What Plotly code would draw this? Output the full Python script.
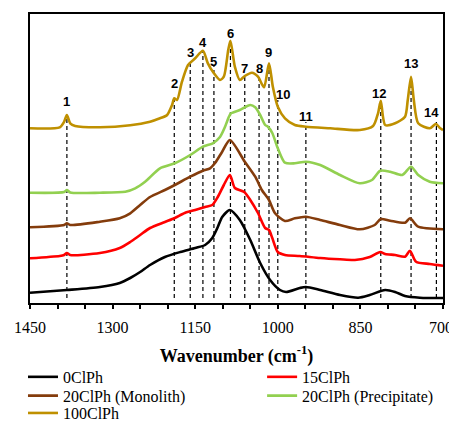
import plotly.graph_objects as go

# ---- data (wavenumber in cm^-1, offset absorbance in arbitrary units) ----
wn_0 = [1450, 1383, 1323, 1287, 1268, 1250, 1232, 1205, 1177, 1150, 1132, 1119, 1109, 1101, 1087,
        1069, 1050, 1032, 1014, 996, 985, 960, 949, 923, 887, 854, 833, 805, 787, 769, 742, 700]
abs_0 = [10.3, 13, 16, 20, 25, 31, 38, 46, 51, 55, 58, 65, 76, 86, 93,
         83, 63, 40, 23, 13, 11, 15, 16, 13, 8, 5.3, 8, 13, 11, 7, 5.3, 5]

wn_15 = [1450, 1396, 1388, 1383, 1377, 1323, 1287, 1268, 1250, 1232, 1205, 1187, 1169, 1150, 1132,
         1119, 1109, 1098, 1087, 1078, 1061, 1050, 1036, 1023, 1016, 1010, 1000, 987, 960, 923,
         887, 860, 833, 814, 805, 787, 769, 760, 749, 724, 700]
abs_15 = [44.7, 47, 48, 50, 48, 50, 55, 61, 68, 75, 81, 85, 90, 93, 96,
          98, 106, 118, 128, 115, 111, 103, 90, 75, 73, 65, 51, 48, 47, 45,
          43.7, 43, 46, 51, 49, 48, 46.3, 52.3, 41.3, 39, 37.3]

wn_20m = [1450, 1388, 1383, 1377, 1323, 1287, 1268, 1250, 1232, 1205, 1187, 1159, 1136, 1123, 1114,
          1101, 1087, 1060, 1041, 1029, 1016, 1005, 987, 969, 949, 923, 887, 851, 824, 813,
          796, 769, 760, 745, 700]
abs_20m = [75.7, 78, 79.7, 78, 81.3, 84.7, 89.7, 98, 106, 113, 118, 126.3, 132.3, 134.7, 140,
           151.3, 163, 141.3, 126.3, 113, 103, 89.7, 82, 84.7, 86.3, 83, 78, 73.7, 78, 84,
           82.3, 80.3, 84.7, 76.3, 73.7]

wn_20p = [1450, 1388, 1383, 1377, 1323, 1277, 1259, 1241, 1214, 1187, 1159, 1136, 1118, 1105, 1096,
          1089, 1085, 1069, 1050, 1041, 1032, 1023, 1018, 1010, 1000, 987, 969, 949, 923, 887,
          851, 829, 814, 796, 774, 758, 745, 724, 700]
abs_20p = [110.3, 111, 113, 110.5, 110.3, 111.3, 114.7, 121.3, 134.7, 139.7, 148, 156.3, 159.7, 166, 176,
           186, 189.7, 193, 198, 195.7, 188, 178, 176.3, 170, 154.7, 140.3, 139.7, 141.3, 138, 128,
           119.7, 123, 132.3, 131.3, 128, 136.3, 128, 121.3, 119.7]

wn_100 = [1450, 1396, 1388, 1383, 1377, 1368, 1323, 1268, 1232, 1214, 1201, 1192, 1188, 1183, 1174,
          1163, 1150, 1136, 1127, 1116, 1105, 1098, 1090, 1086, 1078, 1069, 1060, 1047, 1036, 1025,
          1016, 1009, 1000, 987, 969, 949, 905, 851, 827, 818, 813, 805, 787, 769, 764,
          758, 753, 745, 724, 713, 705, 700]
abs_100 = [174.7, 175.7, 181.3, 188, 179.7, 177, 175.7, 177.7, 181.3, 184.7, 188, 198, 204.7, 203, 221.3,
           238, 244.7, 252.3, 239.7, 229.7, 223, 226.3, 253, 262.3, 236.3, 223, 227, 230.3, 226.3, 215.7,
           239.7, 216.3, 196.3, 184.7, 178, 176.3, 174.7, 173, 177, 189.7, 202.3, 178, 179.7, 186.3, 203,
           226.3, 203, 179.7, 174.7, 179, 174.7, 173]

series_names = ["0ClPh", "15ClPh", "20ClPh (Monolith)", "20ClPh (Precipitate)", "100ClPh"]
series_colors = ["#000000", "#FF0000", "#843C0C", "#92D050", "#BF9000"]
series_legend = ["legend", "legend2", "legend3", "legend4", "legend5"]

# peak markers
peak_labels = ["1", "2", "3", "4", "5", "6", "7", "8", "9", "10", "11", "12", "13", "14"]
peak_wn = [1383, 1188, 1159, 1136, 1116, 1086, 1060, 1034, 1016, 1000, 949, 813, 758, 712]
peak_top = [188, 204.7, 243, 253, 238, 262, 228, 228, 243, 203, 181, 202, 226, 181]
peak_bottom = 5
label_wn = [1383, 1188, 1159, 1136, 1116, 1086, 1060, 1034, 1016, 990, 949, 817, 758, 720]
label_y = [202, 220, 251, 261, 242, 270, 234.7, 234.7, 250.7, 209, 187, 209.7, 239.7, 190.7]

xticks = [1450, 1300, 1150, 1000, 850, 700]
xtick_text = ["1450", "1300", "1150", "1000", "850", "700\u00a0"]

fig = go.Figure()

# dashed peak lines (drawn first, behind curves)
for w, t in zip(peak_wn, peak_top):
    fig.add_trace(go.Scatter(x=[w, w], y=[peak_bottom, t], mode="lines",
                             line=dict(color="black", width=1.2, dash="4px,3px"),
                             showlegend=False, hoverinfo="skip"))

xs = [wn_0, wn_15, wn_20m, wn_20p, wn_100]
ys = [abs_0, abs_15, abs_20m, abs_20p, abs_100]
for x, y, n, c, lg in zip(xs, ys, series_names, series_colors, series_legend):
    fig.add_trace(go.Scatter(x=x, y=y, mode="lines", name=n, legend=lg,
                             line=dict(color=c, width=2.6, shape="spline", smoothing=0.7)))

for lab, w, yy in zip(peak_labels, label_wn, label_y):
    fig.add_annotation(x=w, y=yy, text="<b>" + lab + "</b>", showarrow=False,
                       font=dict(family="Liberation Sans, Arial", size=13, color="black"),
                       xanchor="center", yanchor="middle")

serif = "Liberation Serif, Times New Roman"

fig.update_xaxes(range=[1450, 700], tickvals=xticks, ticktext=xtick_text,
                 ticks="outside", ticklen=4, tickwidth=1.5, tickcolor="black",
                 minor=dict(dtick=50, tick0=700, ticks="outside", ticklen=4, tickwidth=1.5, tickcolor="black"),
                 showline=True, linewidth=2, linecolor="black", mirror=True,
                 showgrid=False, zeroline=False,
                 tickfont=dict(family=serif, size=16, color="black"),
                 ticklabelstandoff=5, ticklabeloverflow="allow",
                 title=dict(text="<b>Wavenumber (cm<sup>-1</sup>)</b>",
                            font=dict(family=serif, size=18, color="black"),
                            standoff=14))
fig.update_yaxes(range=[0, 289], showticklabels=False, ticks="", showgrid=False, zeroline=False,
                 showline=True, linewidth=2, linecolor="black", mirror=True)

legend_common = dict(orientation="v", yanchor="top", xanchor="left", tracegroupgap=0,
                     font=dict(family=serif, size=16, color="black"),
                     bgcolor="rgba(0,0,0,0)", borderwidth=0)

col_x = [-0.017, 0.562]
row_y = [-0.197, -0.262, -0.322]

fig.update_layout(
    width=449, height=413,
    margin=dict(l=22, r=14, t=6, b=118, autoexpand=False),
    plot_bgcolor="white", paper_bgcolor="white",
    showlegend=True,
    legend=dict(x=col_x[0], y=row_y[0], **legend_common),
    legend2=dict(x=col_x[1], y=row_y[0], **legend_common),
    legend3=dict(x=col_x[0], y=row_y[1], **legend_common),
    legend4=dict(x=col_x[1], y=row_y[1], **legend_common),
    legend5=dict(x=col_x[0], y=row_y[2], **legend_common),
)

fig.write_html("out.html")
